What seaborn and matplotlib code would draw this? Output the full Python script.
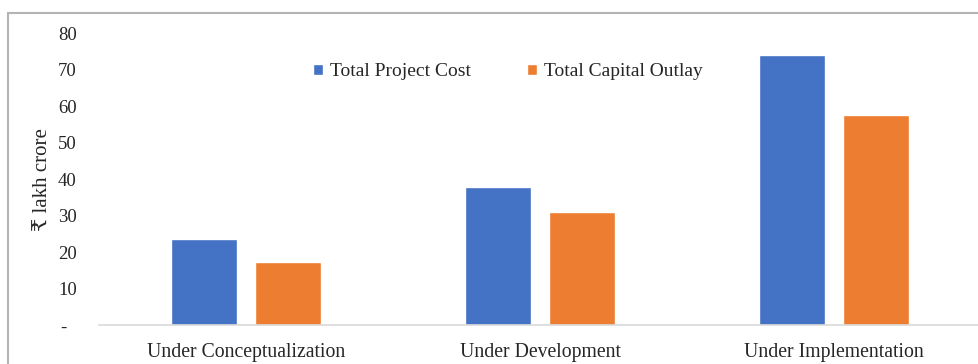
import matplotlib
matplotlib.use("Agg")
import matplotlib.pyplot as plt
from matplotlib.patches import Rectangle
import seaborn as sns
import pandas as pd

# Project pipeline by stage (₹ lakh crore)
stages = ["Under Conceptualization", "Under Development", "Under Implementation"]
series = ["Total Project Cost", "Total Capital Outlay"]
project_cost = [23.6, 37.8, 74.2]
capital_outlay = [17.3, 31.0, 57.5]
y_ticks = [0, 10, 20, 30, 40, 50, 60, 70, 80]
y_tick_labels = ["-  ", "10", "20", "30", "40", "50", "60", "70", "80"]
colors = ["#4472C4", "#ED7D31"]

df = pd.DataFrame({
    "stage": stages * 2,
    "series": [series[0]] * 3 + [series[1]] * 3,
    "value": project_cost + capital_outlay,
})

sns.set_theme(style="white")
plt.rcParams["font.family"] = ["Liberation Serif", "DejaVu Serif", "DejaVu Sans"]

fig = plt.figure(figsize=(9.79, 3.64), dpi=100)
ax = fig.add_axes([99 / 979, 39 / 364, 882 / 979, (325 - 33.5) / 364])

sns.barplot(data=df, x="stage", y="value", hue="series", palette=colors,
            width=0.568, gap=0.21, saturation=1, ax=ax, errorbar=None)

ax.set_ylim(0, 80)
ax.set_xlim(-0.5, 2.5)
ax.set_yticks(y_ticks)
ax.set_yticklabels(y_tick_labels)
ax.tick_params(axis="y", length=0, pad=16, labelsize=13.5, colors="#262626")
ax.tick_params(axis="x", length=0, pad=13, labelsize=14.2, colors="#262626")
ax.set_xlabel("")
ax.set_ylabel("₹ lakh crore", fontsize=15, color="#262626", labelpad=4)
for s in ["top", "right", "left"]:
    ax.spines[s].set_visible(False)
ax.spines["bottom"].set_color("#d9d9d9")
ax.spines["bottom"].set_linewidth(1.2)

handles, labels = ax.get_legend_handles_labels()
ax.get_legend().remove()
fig.legend(handles, labels, loc="center", bbox_to_anchor=(508 / 979, 1 - 72 / 364),
           ncol=2, frameon=False, fontsize=14, handlelength=0.5,
           handleheight=0.5, handletextpad=0.35, columnspacing=2.9,
           labelcolor="#262626")

# outer chart border
fig.add_artist(Rectangle((8 / 979, -0.2), 1.2, 1.2 - 13 / 364,
                         transform=fig.transFigure, fill=False,
                         edgecolor="#b4b4b4", linewidth=1.5, zorder=10))

fig.savefig("out.png", dpi=100)
